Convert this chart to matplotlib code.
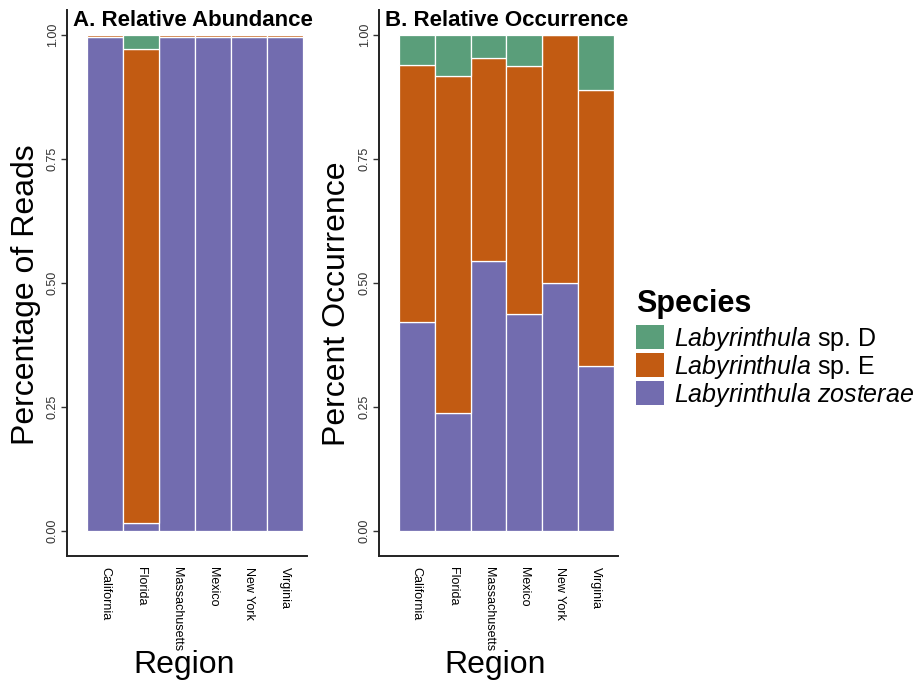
import numpy as np
import matplotlib
matplotlib.use("Agg")
import matplotlib.pyplot as plt
from matplotlib.patches import Patch

plt.rcParams['font.family'] = ['Liberation Sans', 'DejaVu Sans']
plt.rcParams['mathtext.fontset'] = 'custom'
plt.rcParams['mathtext.it'] = 'Liberation Sans:italic'
plt.rcParams['mathtext.rm'] = 'Liberation Sans'

regions = ["California", "Florida", "Massachusetts", "Mexico", "New York", "Virginia"]
species = ["Labyrinthula zosterae", "Labyrinthula sp. E", "Labyrinthula sp. D"]

# A. relative abundance (share of reads)
abund_zost = [0.995, 0.016, 0.995, 0.995, 0.995, 0.995]
abund_e = [0.005, 0.956, 0.005, 0.005, 0.005, 0.005]
abund_d = [0.0, 0.028, 0.0, 0.0, 0.0, 0.0]

# B. relative occurrence
occ_zost = [0.421, 0.238, 0.545, 0.4375, 0.5, 0.333]
occ_e = [0.519, 0.679, 0.409, 0.5, 0.5, 0.556]
occ_d = [0.060, 0.083, 0.046, 0.0625, 0.0, 0.111]

colors = {"zost": "#726CAF", "e": "#C25B12", "d": "#5A9E7A"}

W, H = 919, 684
fig = plt.figure(figsize=(W / 100, H / 100), dpi=100)


def px_axes(x0, x1, y0, y1):
    # pixel box (top-left origin) -> figure axes
    return fig.add_axes([x0 / W, (H - y1) / H, (x1 - x0) / W, (y1 - y0) / H])


def stacked(ax, zost, e, d):
    x = np.arange(1, len(regions) + 1)
    zost = np.array(zost)
    e = np.array(e)
    d = np.array(d)
    kw = dict(width=1.0, edgecolor="white", linewidth=0.9)
    ax.bar(x, zost, color=colors["zost"], **kw)
    ax.bar(x, e, bottom=zost, color=colors["e"], **kw)
    ax.bar(x, d, bottom=zost + e, color=colors["d"], **kw)
    ax.set_xlim(0.5 - 20 / 36, 6.5 + 4 / 36)
    ax.set_ylim(-0.05, 1.05)
    ax.set_xticks(x)
    ax.set_xticklabels(regions, rotation=270, fontsize=9)
    ax.set_yticks([0, 0.25, 0.5, 0.75, 1.0])
    ax.set_yticklabels(["0.00", "0.25", "0.50", "0.75", "1.00"], rotation=90,
                       va="center", fontsize=9, color="#333333")
    ax.tick_params(axis="x", length=0, pad=8)
    ax.tick_params(axis="y", length=4, width=1, pad=2, color="#333333")
    for s in ["top", "right"]:
        ax.spines[s].set_visible(False)
    for s in ["left", "bottom"]:
        ax.spines[s].set_linewidth(1.4)
        ax.spines[s].set_color("#222222")


ax1 = px_axes(67, 307, 10, 556)
stacked(ax1, abund_zost, abund_e, abund_d)
ax2 = px_axes(379, 618, 10, 556)
stacked(ax2, occ_zost, occ_e, occ_d)

fig.text(73 / W, (H - 26) / H, "A. Relative Abundance", fontsize=16, fontweight="bold",
         ha="left", va="baseline")
fig.text(385 / W, (H - 26) / H, "B. Relative Occurrence", fontsize=16, fontweight="bold",
         ha="left", va="baseline")

fig.text(26 / W, (H - 295) / H, "Percentage of Reads", fontsize=23, rotation=90,
         ha="center", va="center")
fig.text(337 / W, (H - 304) / H, "Percent Occurrence", fontsize=23, rotation=90,
         ha="center", va="center")
fig.text(184 / W, (H - 665) / H, "Region", fontsize=23, ha="center", va="center")
fig.text(495 / W, (H - 665) / H, "Region", fontsize=23, ha="center", va="center")

handles = [Patch(facecolor=colors["d"], edgecolor="none"),
           Patch(facecolor=colors["e"], edgecolor="none"),
           Patch(facecolor=colors["zost"], edgecolor="none")]
labels = [r"$\it{Labyrinthula}$ sp. D", r"$\it{Labyrinthula}$ sp. E",
          r"$\it{Labyrinthula\ zosterae}$"]
leg = fig.legend(handles, labels, title="Species", loc="upper left",
                 bbox_to_anchor=(636 / W, (H - 289) / H), frameon=False, fontsize=18,
                 title_fontproperties={"weight": "bold", "size": 22},
                 handlelength=1.1, handleheight=1.1, labelspacing=0.0,
                 handletextpad=0.4, borderpad=0.0, borderaxespad=0.0, alignment="left")
leg._legend_box.sep = 4

fig.savefig("out.png", dpi=100)
